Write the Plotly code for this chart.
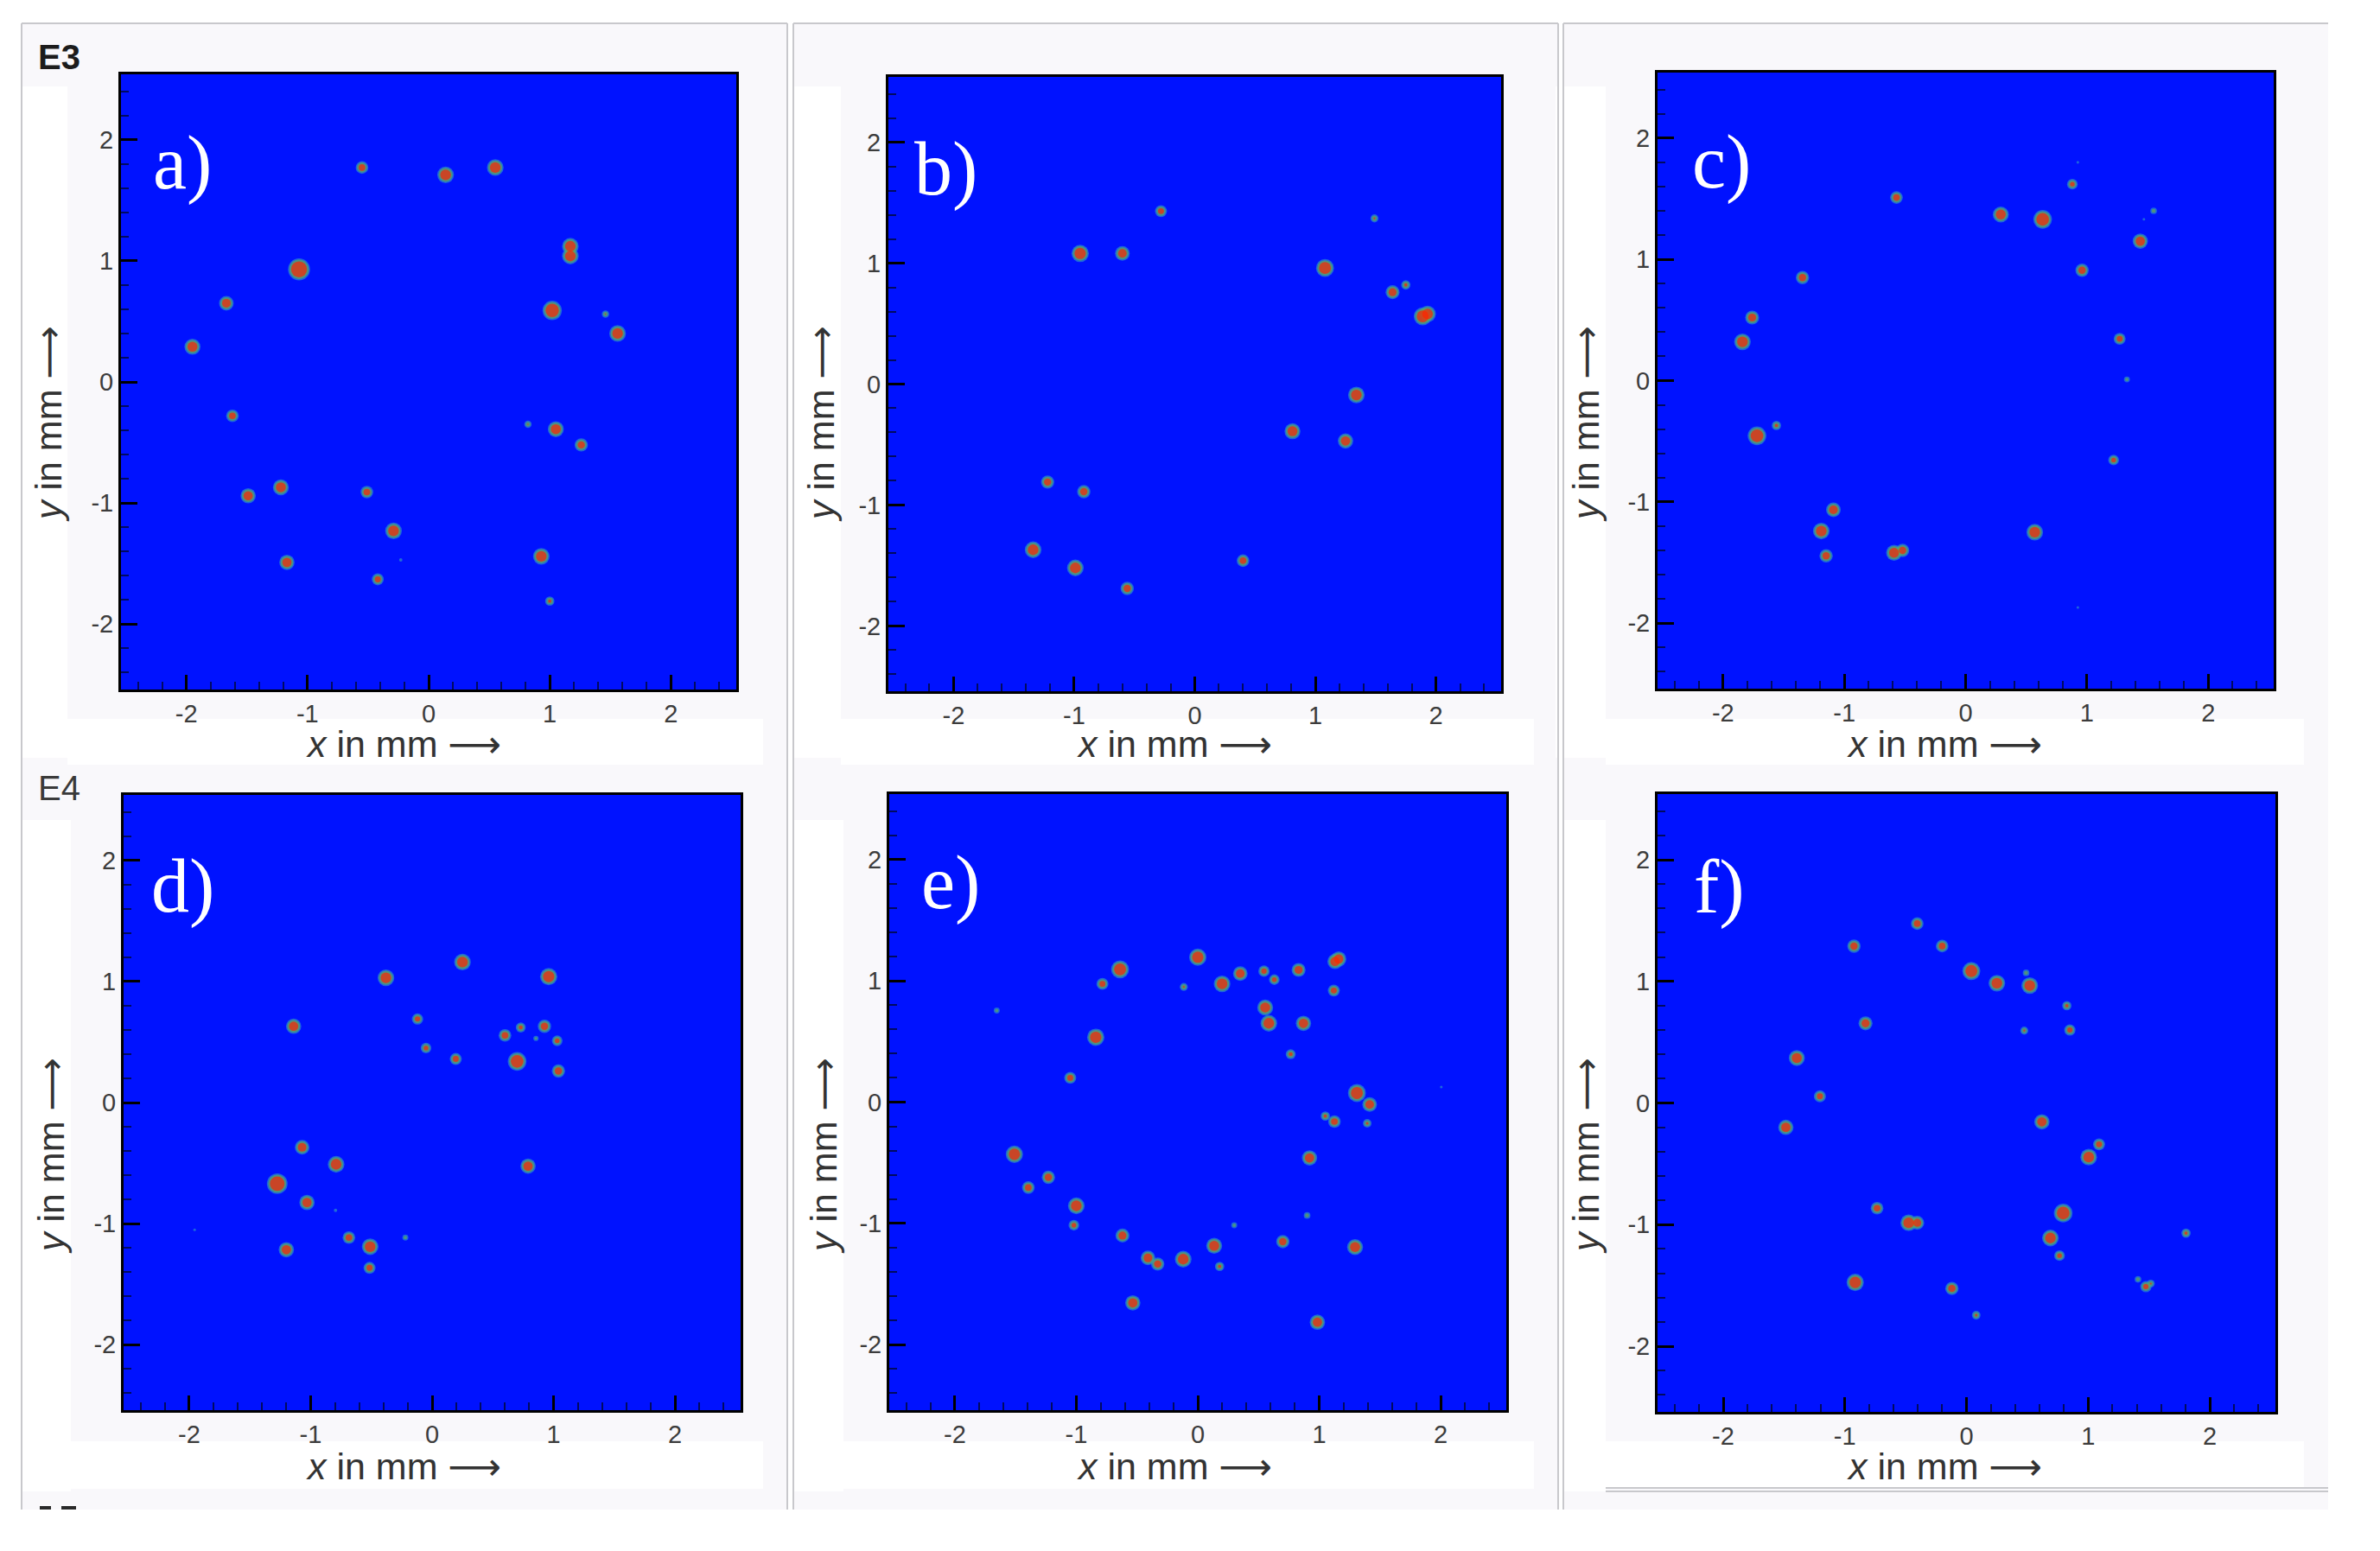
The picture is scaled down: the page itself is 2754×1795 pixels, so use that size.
import plotly.graph_objects as go

# spot positions and widths in mm
a_x = [-0.55, 0.14, 0.55, 1.17, 1.17, -1.07, -1.67, -1.95, 1.02, 1.46, 1.56, -1.62, 0.82, 1.05, 1.26, -1.22, -1.49, -0.51, -0.29, -1.17, -0.42, -0.23, 0.93, 1.00]
a_y = [1.77, 1.71, 1.77, 1.12, 1.04, 0.93, 0.65, 0.29, 0.59, 0.56, 0.40, -0.28, -0.35, -0.39, -0.52, -0.87, -0.94, -0.91, -1.23, -1.49, -1.63, -1.47, -1.44, -1.81]
a_d = [0.095, 0.125, 0.125, 0.125, 0.125, 0.165, 0.11, 0.12, 0.145, 0.055, 0.125, 0.095, 0.055, 0.12, 0.10, 0.12, 0.115, 0.095, 0.125, 0.115, 0.09, 0.025, 0.125, 0.07]

b_x = [-0.28, -0.95, -0.60, 1.49, 1.08, 1.64, 1.75, 1.89, 1.93, 1.34, 0.81, 1.25, -1.22, -0.92, -1.34, -0.99, -0.56, 0.40]
b_y = [1.43, 1.08, 1.08, 1.37, 0.96, 0.76, 0.82, 0.56, 0.58, -0.09, -0.39, -0.47, -0.81, -0.89, -1.37, -1.52, -1.69, -1.46]
b_d = [0.09, 0.13, 0.11, 0.06, 0.135, 0.105, 0.07, 0.135, 0.125, 0.125, 0.12, 0.115, 0.10, 0.10, 0.125, 0.125, 0.10, 0.095]

c_x = [0.925, 0.88, -0.57, 0.29, 0.635, 1.55, 1.47, 1.44, 0.96, -1.345, -1.76, -1.84, 1.27, 1.33, -1.56, -1.72, 1.22, -1.09, -1.19, 0.57, -1.15, -0.59, -0.52, 0.925]
c_y = [1.80, 1.62, 1.51, 1.37, 1.33, 1.40, 1.33, 1.15, 0.91, 0.85, 0.52, 0.32, 0.345, 0.01, -0.37, -0.455, -0.655, -1.065, -1.24, -1.25, -1.445, -1.42, -1.40, -1.87]
c_d = [0.02, 0.08, 0.095, 0.12, 0.14, 0.05, 0.02, 0.115, 0.10, 0.10, 0.105, 0.125, 0.09, 0.045, 0.07, 0.14, 0.08, 0.11, 0.125, 0.125, 0.10, 0.12, 0.10, 0.02]

d_x = [0.25, -0.38, 0.96, -0.12, -1.14, 0.60, 0.73, 0.925, 0.855, 1.03, -0.05, 0.195, 0.70, 1.04, -1.07, -0.79, -1.275, 0.79, -1.03, -0.795, -1.955, -0.22, -0.685, -0.51, -1.20, -0.515]
d_y = [1.16, 1.03, 1.04, 0.69, 0.63, 0.555, 0.62, 0.63, 0.53, 0.51, 0.45, 0.36, 0.34, 0.26, -0.37, -0.51, -0.67, -0.525, -0.825, -0.89, -1.05, -1.115, -1.115, -1.19, -1.215, -1.365]
d_d = [0.125, 0.125, 0.13, 0.085, 0.115, 0.095, 0.075, 0.10, 0.04, 0.08, 0.08, 0.09, 0.14, 0.10, 0.11, 0.125, 0.155, 0.115, 0.115, 0.025, 0.02, 0.045, 0.095, 0.125, 0.115, 0.09]

e_x = [0.0, -0.64, -0.785, -0.115, 0.20, 0.35, 0.545, 0.63, 0.83, 1.13, 1.16, 1.12, 0.555, 0.585, 0.87, -0.84, 0.765, -1.655, -1.05, 2.005, 1.31, 1.415, 1.05, 1.125, 1.395, -1.51, 0.92, -1.23, -1.395, -1.0, -1.02, 0.90, 0.30, -0.62, 0.70, 0.135, 1.295, -0.12, -0.41, -0.33, 0.18, -0.535, 0.985]
e_y = [1.195, 1.095, 0.975, 0.95, 0.975, 1.06, 1.08, 1.01, 1.09, 1.16, 1.18, 0.92, 0.78, 0.65, 0.65, 0.535, 0.395, 0.755, 0.20, 0.125, 0.075, -0.02, -0.115, -0.16, -0.175, -0.43, -0.46, -0.62, -0.705, -0.855, -1.015, -0.935, -1.015, -1.10, -1.15, -1.185, -1.195, -1.295, -1.285, -1.335, -1.355, -1.655, -1.815]
e_d = [0.13, 0.135, 0.09, 0.06, 0.125, 0.11, 0.085, 0.08, 0.105, 0.115, 0.115, 0.09, 0.12, 0.125, 0.115, 0.13, 0.075, 0.045, 0.09, 0.02, 0.135, 0.11, 0.07, 0.095, 0.065, 0.13, 0.115, 0.10, 0.095, 0.125, 0.08, 0.05, 0.045, 0.105, 0.10, 0.12, 0.12, 0.125, 0.11, 0.10, 0.07, 0.115, 0.115]

f_x = [-0.405, -0.925, -0.20, 0.04, 0.25, 0.49, 0.52, 0.825, -0.83, 0.475, 0.85, -1.395, -1.205, -1.485, 0.62, 1.09, 1.005, -0.735, -0.475, -0.405, 0.795, 0.69, 0.765, 1.805, -0.915, -0.12, 1.41, 1.475, 1.515, 0.08]
f_y = [1.475, 1.29, 1.29, 1.085, 0.985, 1.07, 0.965, 0.80, 0.655, 0.595, 0.60, 0.37, 0.055, -0.20, -0.155, -0.34, -0.445, -0.865, -0.985, -0.985, -0.905, -1.11, -1.255, -1.07, -1.475, -1.525, -1.45, -1.51, -1.485, -1.745]
f_d = [0.095, 0.10, 0.095, 0.135, 0.125, 0.05, 0.125, 0.07, 0.105, 0.06, 0.085, 0.12, 0.09, 0.115, 0.115, 0.09, 0.125, 0.095, 0.125, 0.105, 0.14, 0.125, 0.08, 0.07, 0.13, 0.10, 0.05, 0.085, 0.06, 0.065]

tick_vals = [-2, -1, 0, 1, 2]
tick_text = ['-2', '-1', '0', '1', '2']
panel_labels = ['a)', 'b)', 'c)', 'd)', 'e)', 'f)']

W = 2754
H = 1795
PX_PER_MM = 140.3
BLUE = '#0012ff'

# left, right, top, bottom inside each frame, in page pixels
frames = [(140, 852, 86, 798), (1028, 1737, 89, 800), (1918, 2631, 84, 797),
          (143, 857, 920, 1632), (1029, 1743, 919, 1632), (1918, 2633, 919, 1634)]
spots = [(a_x, a_y, a_d), (b_x, b_y, b_d), (c_x, c_y, c_d),
         (d_x, d_y, d_d), (e_x, e_y, e_d), (f_x, f_y, f_d)]
label_pos = [(211, 188), (1094, 195), (1992, 187), (212, 1025), (1100, 1021), (1989, 1026)]
xtitle_pos = [(467, 861), (1359, 861), (2250, 861), (467, 1697), (1359, 1697), (2250, 1697)]
ytitle_pos = [(56, 491), (950, 491), (1835, 491), (59, 1338), (953, 1338), (1835, 1338)]


def px(x):
    return x / W


def py(y):
    return 1 - y / H


def note(text, pos, size, color, family='Liberation Sans, DejaVu Sans', angle=0):
    return dict(text=text, x=px(pos[0]), y=py(pos[1]), xref='paper', yref='paper',
                xanchor='center', yanchor='middle', showarrow=False, textangle=angle,
                font=dict(family=family, size=size, color=color))


def patch(x0, x1, y0, y1, color='#ffffff'):
    return dict(type='rect', xref='paper', yref='paper', layer='below',
                x0=px(x0), x1=px(x1), y0=py(y1), y1=py(y0),
                fillcolor=color, line_width=0)


def rule(x0, x1, y0, y1):
    return dict(type='line', xref='paper', yref='paper', layer='below',
                x0=px(x0), x1=px(x1), y0=py(y0), y1=py(y1),
                line=dict(color='#c8c8cc', width=2))


fig = go.Figure()
layout = {}
notes = []

for i, (frame, spot) in enumerate(zip(frames, spots)):
    n = i + 1
    suffix = '' if n == 1 else str(n)
    left, right, top, bottom = frame
    axis_style = dict(range=[-2.54, 2.54], tickvals=tick_vals, ticktext=tick_text,
                      ticks='inside', tickwidth=3, tickcolor='#000000',
                      minor=dict(dtick=0.2, tick0=0, ticks='inside', ticklen=9,
                                 tickwidth=2, tickcolor='#000a60'),
                      showgrid=False, zeroline=False, showline=True, mirror=True,
                      linecolor='#000000', linewidth=3,
                      tickfont=dict(family='Liberation Sans', size=29, color='#3c3c3c'))
    layout['xaxis' + suffix] = dict(axis_style, domain=[px(left), px(right)],
                                    anchor='y' + suffix, ticklen=17)
    layout['yaxis' + suffix] = dict(axis_style, domain=[py(bottom), py(top)],
                                    anchor='x' + suffix, ticklen=19)
    xs, ys, ds = spot
    # rainbow falloff of a spot: blue-teal rim, green ring, red core
    rim = [d * PX_PER_MM * 1.1 for d in ds]
    for shrink, color in [(0, '#2a8ad0'), (3, '#5fa85a'), (7, '#ff2400')]:
        fig.add_trace(go.Scatter(x=xs, y=ys, mode='markers', xaxis='x' + suffix, yaxis='y' + suffix,
                                 marker=dict(size=[max(r - shrink, 0) for r in rim],
                                             color=color, line_width=0),
                                 hoverinfo='skip', showlegend=False))
    notes.append(note(panel_labels[i], label_pos[i], 88, '#ffffff', family='Liberation Serif'))
    notes.append(note('<i>x</i> in mm ⟶', xtitle_pos[i], 43, '#333333'))
    notes.append(note('<i>y</i> in mm ⟶', ytitle_pos[i], 43, '#333333', angle=-90))

notes.append(note('<b>E3</b>', (68, 66), 40, '#1c1c1c'))
notes.append(note('E4', (68, 912), 40, '#3a3a3a'))

shapes = [
    # white page around the screenshot
    patch(0, W, 0, 27), patch(0, 25, 0, H), patch(2694, W, 0, H), patch(0, W, 1747, H),
    # gaps between the columns
    patch(911, 918, 0, 1747), patch(1803, 1809, 0, 1747),
    # white boxes behind the axis labels
    patch(23, 78, 100, 877), patch(78, 883, 832, 885),
    patch(918, 973, 100, 877), patch(973, 1775, 832, 885),
    patch(1800, 1858, 100, 877), patch(1858, 2666, 832, 885),
    patch(25, 82, 949, 1726), patch(82, 883, 1668, 1723),
    patch(918, 976, 949, 1726), patch(976, 1775, 1668, 1723),
    patch(1806, 1858, 949, 1726), patch(1858, 2666, 1668, 1723),
    # cut off heading at the bottom edge
    patch(46, 59, 1743, 1747, '#2a2a2a'), patch(71, 88, 1743, 1747, '#2a2a2a'),
    # panel borders
    rule(25, 911, 27, 27), rule(918, 1803, 27, 27), rule(1809, 2694, 27, 27),
    rule(25, 25, 27, 1747), rule(911, 911, 27, 1747), rule(918, 918, 27, 1747),
    rule(1803, 1803, 27, 1747), rule(1809, 1809, 27, 1747),
    rule(1858, 2694, 1722, 1722), rule(1858, 2694, 1726, 1726),
]

fig.update_layout(
    width=W,
    height=H,
    margin=dict(l=0, r=0, t=0, b=0),
    paper_bgcolor='#f9f8fb',
    plot_bgcolor=BLUE,
    showlegend=False,
    shapes=shapes,
    annotations=notes,
    **layout
)

fig.write_html("out.html", config={'displayModeBar': False},
               post_script="document.body.style.margin='0';")
